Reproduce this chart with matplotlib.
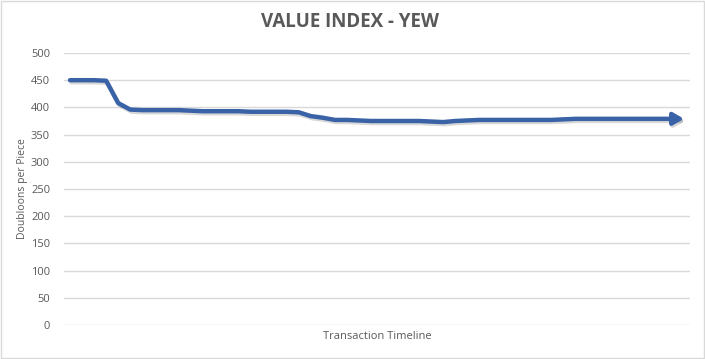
import matplotlib
matplotlib.use('Agg')
import matplotlib.pyplot as plt
import matplotlib.patheffects as pe
import numpy as np

# Series (doubloons per piece, per transaction)
values = [450, 450, 450, 449, 408, 396, 395, 395, 395, 395,
          394, 393, 393, 393, 393, 392, 392, 392, 392, 391,
          384, 381, 377, 377, 376, 375, 375, 375, 375, 375,
          374, 373, 375, 376, 377, 377, 377, 377, 377, 377,
          377, 378, 379, 379, 379, 379, 379, 379, 379, 379,
          379, 379]
y_ticks = [0, 50, 100, 150, 200, 250, 300, 350, 400, 450, 500]

TITLE = 'VALUE INDEX - YEW'
X_LABEL = 'Transaction Timeline'
Y_LABEL = 'Doubloons per Piece'

FONT = ['Open Sans', 'DejaVu Sans']
TEXT_COLOR = '#595959'
LINE_COLOR = '#3A62A6'
GRID_COLOR = '#D9D9D9'

plt.rcParams['font.family'] = FONT

fig = plt.figure(figsize=(7.05, 3.59), dpi=100)
ax = fig.add_axes([64 / 705, 1 - 325 / 359, 626 / 705, 272 / 359])

x = np.arange(len(values))
shadow = [pe.SimpleLineShadow(offset=(1.0, -1.5), shadow_color='#7F7F7F', alpha=0.3),
          pe.Normal()]
ax.plot(x[:-1], values[:-1], color=LINE_COLOR, lw=3.2, solid_capstyle='round',
        solid_joinstyle='round', path_effects=shadow, zorder=3)
ax.annotate('', xy=(x[-1], values[-1]), xytext=(x[-2], values[-2]),
            arrowprops=dict(arrowstyle='-|>,head_length=0.6,head_width=0.35',
                            color=LINE_COLOR, lw=3.2, shrinkA=0, shrinkB=0,
                            mutation_scale=10, path_effects=shadow), zorder=3)

ax.set_xlim(-0.5, len(values) - 0.5)
ax.set_ylim(0, 500)
ax.set_yticks(y_ticks)
ax.set_xticks([])
ax.grid(axis='y', color=GRID_COLOR, lw=1)
ax.set_axisbelow(True)
for s in ax.spines.values():
    s.set_visible(False)
ax.tick_params(axis='y', length=0, pad=10, labelsize=8, labelcolor=TEXT_COLOR)

ax.set_xlabel(X_LABEL, fontsize=8, color=TEXT_COLOR, labelpad=4)
ax.set_ylabel(Y_LABEL, fontsize=7.5, color=TEXT_COLOR, labelpad=2)
fig.text(0.497, 1 - 22 / 359, TITLE, ha='center', va='center', fontsize=13.5,
         fontweight='bold', color=TEXT_COLOR)

# light border round the chart area
fig.patches.append(plt.Rectangle((0.001, 0.002), 0.997, 0.995, transform=fig.transFigure,
                                 fill=False, edgecolor='#D9D9D9', lw=1))

fig.savefig('out.png', dpi=100)
